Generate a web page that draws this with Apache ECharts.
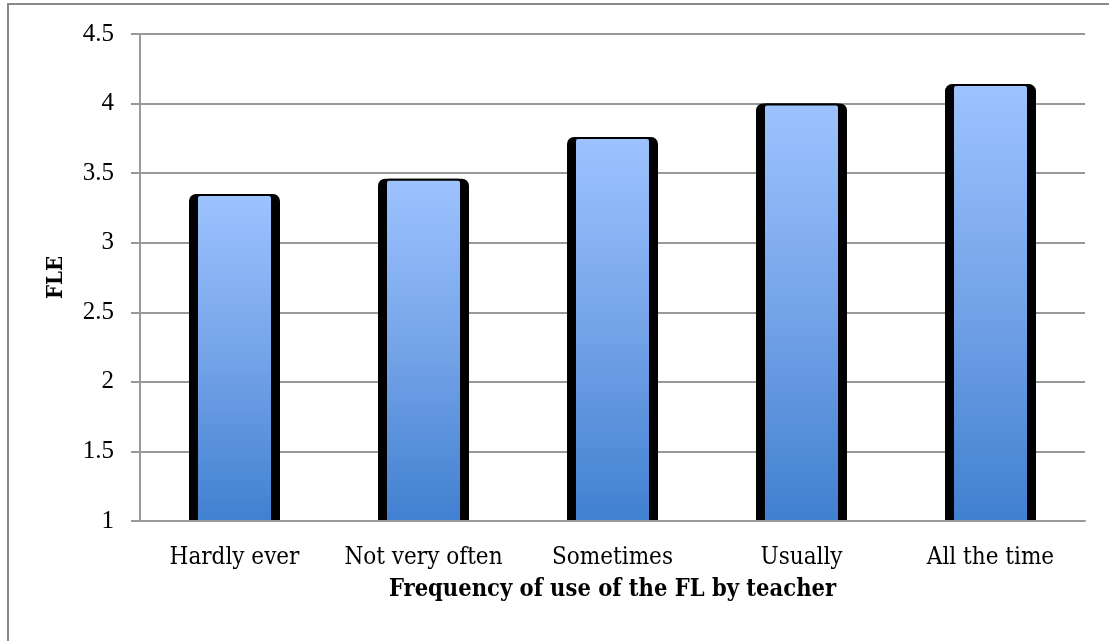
<!DOCTYPE html>
<html>
<head>
<meta charset="utf-8">
<script src="https://cdn.jsdelivr.net/npm/echarts@6/dist/echarts.min.js"></script>
<style>
html,body{margin:0;padding:0;background:#fff;}
#chart{width:1109px;height:641px;}
</style>
</head>
<body>
<div id="chart"></div>
<script>
var categories = ['Hardly ever', 'Not very often', 'Sometimes', 'Usually', 'All the time'];
var fleValues = [3.35, 3.46, 3.76, 4.0, 4.14];
var yTicks = { min: 1, max: 4.5, interval: 0.5 };
var xAxisTitle = 'Frequency of use of the FL by teacher';
var yAxisTitle = 'FLE';

var FONT = 'Liberation Serif';
var CFONT = '"DejaVu Serif Condensed", "DejaVu Serif", serif';
var chart = echarts.init(document.getElementById('chart'), null, { renderer: 'canvas' });

var gridColor = '#999999';

chart.setOption({
  animation: false,
  backgroundColor: '#ffffff',
  graphic: [{
    type: 'rect',
    shape: { x: 8, y: 4, width: 1200, height: 700 },
    style: { fill: 'none', stroke: '#8a8a8a', lineWidth: 2 },
    silent: true,
    z: -10
  }],
  grid: { left: 140, right: 24, top: 34, bottom: 120, containLabel: false },
  xAxis: [{
    type: 'category',
    data: categories,
    axisLine: { show: true, lineStyle: { color: gridColor, width: 2 } },
    axisTick: { show: false },
    axisLabel: { color: '#000', fontFamily: CFONT, fontSize: 24, margin: 25, interval: 0 },
    name: xAxisTitle,
    nameLocation: 'middle',
    nameGap: 57,
    nameMoveOverlap: false,
    nameTextStyle: { color: '#000', fontFamily: CFONT, fontSize: 23.5, fontWeight: 'bold' },
    z: 5
  }, {
    type: 'category',
    data: categories,
    show: false
  }],
  yAxis: {
    type: 'value',
    min: yTicks.min,
    max: yTicks.max,
    interval: yTicks.interval,
    axisLine: { show: true, lineStyle: { color: gridColor, width: 2 } },
    axisTick: { show: true, length: 9, lineStyle: { color: gridColor, width: 2 } },
    splitLine: { show: true, lineStyle: { color: gridColor, width: 2 } },
    axisLabel: { color: '#000', fontFamily: FONT, fontSize: 25, margin: 26 },
    name: yAxisTitle,
    nameLocation: 'middle',
    nameRotate: 90,
    nameGap: 73,
    nameTextStyle: { color: '#000', fontFamily: CFONT, fontSize: 22, fontWeight: 'bold' }
  },
  series: [{
    type: 'bar',
    name: 'shadow',
    xAxisIndex: 0,
    data: fleValues,
    barWidth: 91,
    itemStyle: { color: '#000000', borderRadius: [7, 7, 0, 0] },
    z: 2
  }, {
    type: 'bar',
    name: 'FLE',
    xAxisIndex: 1,
    data: fleValues,
    barWidth: 77,
    itemStyle: {
      color: new echarts.graphic.LinearGradient(0, 0, 0, 1, [
        { offset: 0, color: '#9dc3ff' },
        { offset: 0.5, color: '#74a3e8' },
        { offset: 1, color: '#4080d0' }
      ]),
      borderColor: '#000000',
      borderWidth: 2,
      borderRadius: [3, 3, 0, 0]
    },
    z: 3
  }]
});
</script>
</body>
</html>
